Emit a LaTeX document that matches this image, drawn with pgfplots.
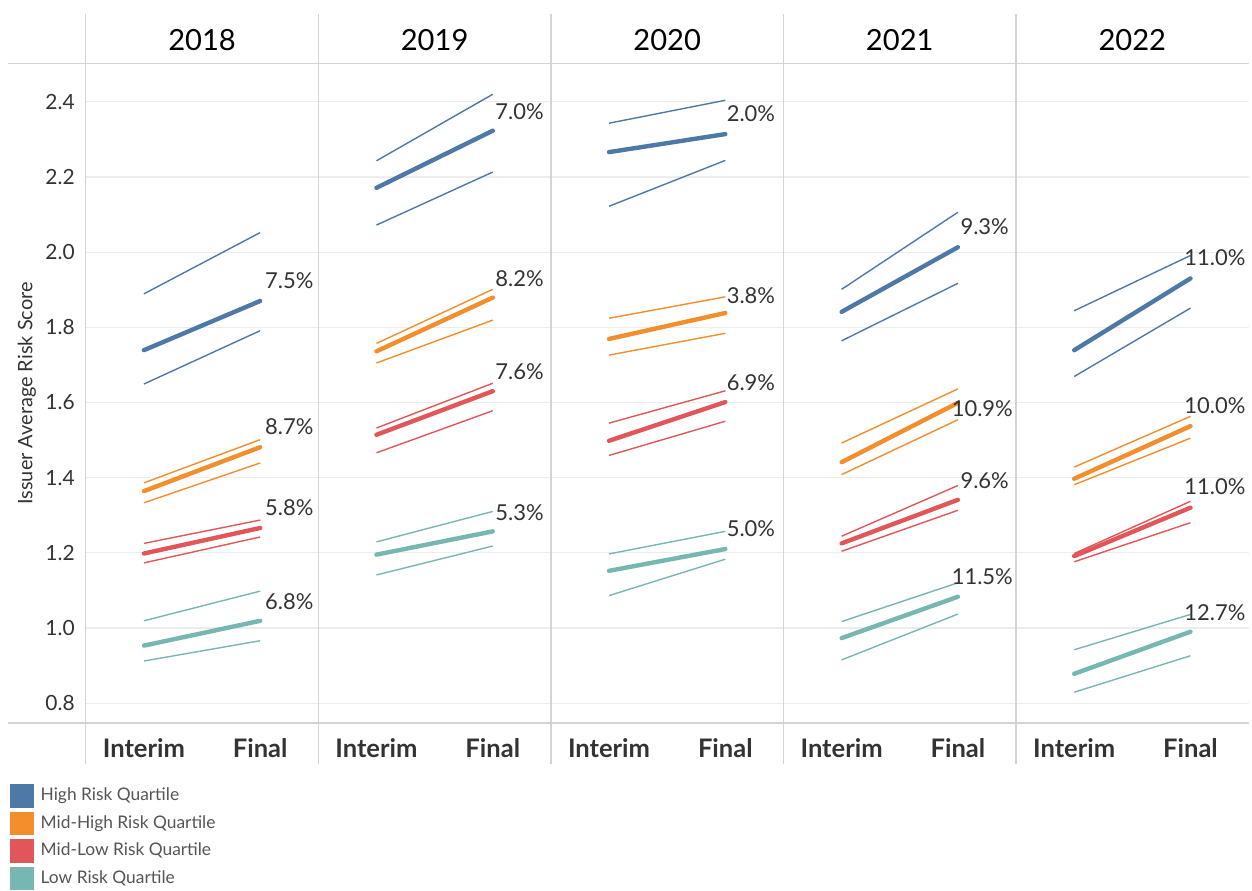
\documentclass[border=0pt]{standalone}
\usepackage{fontspec}
\setmainfont{Lato}
\usepackage{pgfplots}
\pgfplotsset{compat=1.18}
\usepgfplotslibrary{groupplots}
\definecolor{cHi}{HTML}{4E79A7}
\definecolor{cMH}{HTML}{F28E2B}
\definecolor{cML}{HTML}{E15759}
\definecolor{cLo}{HTML}{76B7B2}
\definecolor{divc}{HTML}{D4D4D4}
\definecolor{gridc}{HTML}{EDEDED}
\definecolor{txt}{HTML}{333333}
\definecolor{legtxt}{HTML}{555555}
\pgfplotsset{
  band/.style={line width=0.7pt, color=#1, no markers, forget plot},
  mid/.style={line width=2.2pt, color=#1, no markers, line cap=round},
}
\tikzset{pct/.style={font=\fontsize{11}{13}\selectfont, text=txt, anchor=center}}
\begin{document}
\begin{tikzpicture}
\begin{groupplot}[
  group style={group size=5 by 1, horizontal sep=0pt, yticklabels at=edge left},
  scale only axis, width=116.6pt, height=330.5pt,
  xmin=-0.5, xmax=1.5, ymin=0.747, ymax=2.501,
  clip=false,
  axis line style={draw=none},
  major tick length=0pt,
  ymajorgrids, grid style={gridc, line width=0.6pt},
  ytick={0.8,1,1.2,1.4,1.6,1.8,2,2.2,2.4},
  yticklabel style={/pgf/number format/fixed, /pgf/number format/fixed zerofill, /pgf/number format/precision=1, /pgf/number format/assume math mode=true},
  yticklabel style={font=\fontsize{10.5}{12}\selectfont, text=txt, xshift=-2pt},
  xtick={0,1}, xticklabels={Interim,Final},
  xticklabel style={font=\bfseries\fontsize{12.8}{15}\selectfont, text=txt, text height=9.6pt, text depth=0pt, yshift=-4pt},
  title style={at={(axis description cs:0.5,1)}, anchor=center, yshift=6pt, font=\fontsize{14.6}{17}\selectfont, text=black},
  every axis y label/.style={at={(axis description cs:0,0.5)}, xshift=-29.5pt, rotate=90, anchor=center, font=\fontsize{10}{12}\selectfont, text=txt},
]
% ---------------- 2018
\nextgroupplot[title={2018}, ylabel={Issuer Average Risk Score},
  legend style={draw=none, fill=none, at={(axis description cs:0,0)}, anchor=north west, xshift=-38pt, yshift=-30.5pt,
    font=\fontsize{8.7}{10}\selectfont, text=legtxt, row sep=2.1pt, column sep=2pt, inner sep=0pt, nodes={inner sep=1.5pt}},
  legend cell align=left,
  legend image code/.code={\fill[#1] (0pt,-4.75pt) rectangle (9.5pt,4.75pt);}]
\path ([xshift=-43pt,yshift=32pt]rel axis cs:0,1) -- ([xshift=-43pt,yshift=-80.5pt]rel axis cs:0,0);
\draw[divc, line width=0.6pt] ([yshift=25pt]rel axis cs:0,1) -- ([yshift=-20.5pt]rel axis cs:0,0);
\draw[divc, line width=0.6pt] ([xshift=-39pt]rel axis cs:0,1) -- (rel axis cs:1,1);
\draw[divc, line width=0.6pt] ([xshift=-39pt]rel axis cs:0,0) -- (rel axis cs:1,0);
\addplot[band=cHi] coordinates {(0,1.889) (1,2.052)};
\addplot[band=cHi] coordinates {(0,1.649) (1,1.791)};
\addplot[band=cMH] coordinates {(0,1.386) (1,1.501)};
\addplot[band=cMH] coordinates {(0,1.333) (1,1.439)};
\addplot[band=cML] coordinates {(0,1.225) (1,1.287)};
\addplot[band=cML] coordinates {(0,1.173) (1,1.242)};
\addplot[band=cLo] coordinates {(0,1.019) (1,1.098)};
\addplot[band=cLo] coordinates {(0,0.912) (1,0.966)};
\addplot[mid=cHi] coordinates {(0,1.739) (1,1.870)};
\addlegendentry{High Risk Quartile}
\addplot[mid=cMH] coordinates {(0,1.364) (1,1.481)};
\addlegendentry{Mid-High Risk Quartile}
\addplot[mid=cML] coordinates {(0,1.198) (1,1.266)};
\addlegendentry{Mid-Low Risk Quartile}
\addplot[mid=cLo] coordinates {(0,0.953) (1,1.019)};
\addlegendentry{Low Risk Quartile}
\node[pct] at (axis cs:1.25,1.925) {7.5\%};
\node[pct] at (axis cs:1.25,1.535) {8.7\%};
\node[pct] at (axis cs:1.25,1.320) {5.8\%};
\node[pct] at (axis cs:1.25,1.071) {6.8\%};
% ---------------- 2019
\nextgroupplot[title={2019}]
\draw[divc, line width=0.6pt] ([yshift=25pt]rel axis cs:0,1) -- ([yshift=-20.5pt]rel axis cs:0,0);
\draw[divc, line width=0.6pt] (rel axis cs:0,1) -- (rel axis cs:1,1);
\draw[divc, line width=0.6pt] (rel axis cs:0,0) -- (rel axis cs:1,0);
\addplot[band=cHi] coordinates {(0,2.243) (1,2.420)};
\addplot[band=cHi] coordinates {(0,2.072) (1,2.213)};
\addplot[band=cMH] coordinates {(0,1.757) (1,1.901)};
\addplot[band=cMH] coordinates {(0,1.705) (1,1.819)};
\addplot[band=cML] coordinates {(0,1.532) (1,1.651)};
\addplot[band=cML] coordinates {(0,1.466) (1,1.578)};
\addplot[band=cLo] coordinates {(0,1.229) (1,1.310)};
\addplot[band=cLo] coordinates {(0,1.141) (1,1.218)};
\addplot[mid=cHi] coordinates {(0,2.171) (1,2.323)};
\addplot[mid=cMH] coordinates {(0,1.736) (1,1.879)};
\addplot[mid=cML] coordinates {(0,1.514) (1,1.630)};
\addplot[mid=cLo] coordinates {(0,1.195) (1,1.257)};
\node[pct] at (axis cs:1.23,2.373) {7.0\%};
\node[pct] at (axis cs:1.23,1.930) {8.2\%};
\node[pct] at (axis cs:1.23,1.681) {7.6\%};
\node[pct] at (axis cs:1.23,1.307) {5.3\%};
% ---------------- 2020
\nextgroupplot[title={2020}]
\draw[divc, line width=0.6pt] ([yshift=25pt]rel axis cs:0,1) -- ([yshift=-20.5pt]rel axis cs:0,0);
\draw[divc, line width=0.6pt] (rel axis cs:0,1) -- (rel axis cs:1,1);
\draw[divc, line width=0.6pt] (rel axis cs:0,0) -- (rel axis cs:1,0);
\addplot[band=cHi] coordinates {(0,2.343) (1,2.404)};
\addplot[band=cHi] coordinates {(0,2.122) (1,2.244)};
\addplot[band=cMH] coordinates {(0,1.824) (1,1.881)};
\addplot[band=cMH] coordinates {(0,1.726) (1,1.784)};
\addplot[band=cML] coordinates {(0,1.545) (1,1.631)};
\addplot[band=cML] coordinates {(0,1.459) (1,1.550)};
\addplot[band=cLo] coordinates {(0,1.197) (1,1.257)};
\addplot[band=cLo] coordinates {(0,1.086) (1,1.183)};
\addplot[mid=cHi] coordinates {(0,2.266) (1,2.314)};
\addplot[mid=cMH] coordinates {(0,1.769) (1,1.838)};
\addplot[mid=cML] coordinates {(0,1.498) (1,1.601)};
\addplot[mid=cLo] coordinates {(0,1.152) (1,1.210)};
\node[pct] at (axis cs:1.22,2.368) {2.0\%};
\node[pct] at (axis cs:1.22,1.885) {3.8\%};
\node[pct] at (axis cs:1.22,1.652) {6.9\%};
\node[pct] at (axis cs:1.22,1.264) {5.0\%};
% ---------------- 2021
\nextgroupplot[title={2021}]
\draw[divc, line width=0.6pt] ([yshift=25pt]rel axis cs:0,1) -- ([yshift=-20.5pt]rel axis cs:0,0);
\draw[divc, line width=0.6pt] (rel axis cs:0,1) -- (rel axis cs:1,1);
\draw[divc, line width=0.6pt] (rel axis cs:0,0) -- (rel axis cs:1,0);
\addplot[band=cHi] coordinates {(0,1.901) (1,2.106)};
\addplot[band=cHi] coordinates {(0,1.764) (1,1.917)};
\addplot[band=cMH] coordinates {(0,1.492) (1,1.636)};
\addplot[band=cMH] coordinates {(0,1.408) (1,1.554)};
\addplot[band=cML] coordinates {(0,1.244) (1,1.379)};
\addplot[band=cML] coordinates {(0,1.204) (1,1.313)};
\addplot[band=cLo] coordinates {(0,1.017) (1,1.120)};
\addplot[band=cLo] coordinates {(0,0.915) (1,1.037)};
\addplot[mid=cHi] coordinates {(0,1.841) (1,2.013)};
\addplot[mid=cMH] coordinates {(0,1.441) (1,1.599)};
\addplot[mid=cML] coordinates {(0,1.225) (1,1.341)};
\addplot[mid=cLo] coordinates {(0,0.973) (1,1.083)};
\node[pct] at (axis cs:1.23,2.068) {9.3\%};
\node[pct] at (axis cs:1.21,1.583) {10.9\%};
\node[pct] at (axis cs:1.23,1.392) {9.6\%};
\node[pct] at (axis cs:1.21,1.137) {11.5\%};
% ---------------- 2022
\nextgroupplot[title={2022}]
\draw[divc, line width=0.6pt] ([yshift=25pt]rel axis cs:0,1) -- ([yshift=-20.5pt]rel axis cs:0,0);
\draw[divc, line width=0.6pt] (rel axis cs:0,1) -- (rel axis cs:1,1);
\draw[divc, line width=0.6pt] (rel axis cs:0,0) -- (rel axis cs:1,0);
\addplot[band=cHi] coordinates {(0,1.844) (1,1.991)};
\addplot[band=cHi] coordinates {(0,1.669) (1,1.851)};
\addplot[band=cMH] coordinates {(0,1.428) (1,1.563)};
\addplot[band=cMH] coordinates {(0,1.381) (1,1.505)};
\addplot[band=cML] coordinates {(0,1.198) (1,1.337)};
\addplot[band=cML] coordinates {(0,1.176) (1,1.280)};
\addplot[band=cLo] coordinates {(0,0.942) (1,1.036)};
\addplot[band=cLo] coordinates {(0,0.829) (1,0.926)};
\addplot[mid=cHi] coordinates {(0,1.739) (1,1.930)};
\addplot[mid=cMH] coordinates {(0,1.397) (1,1.537)};
\addplot[mid=cML] coordinates {(0,1.191) (1,1.320)};
\addplot[mid=cLo] coordinates {(0,0.878) (1,0.990)};
\node[pct] at (axis cs:1.21,1.986) {11.0\%};
\node[pct] at (axis cs:1.21,1.591) {10.0\%};
\node[pct] at (axis cs:1.21,1.376) {11.0\%};
\node[pct] at (axis cs:1.21,1.042) {12.7\%};
\end{groupplot}
\end{tikzpicture}
\end{document}
